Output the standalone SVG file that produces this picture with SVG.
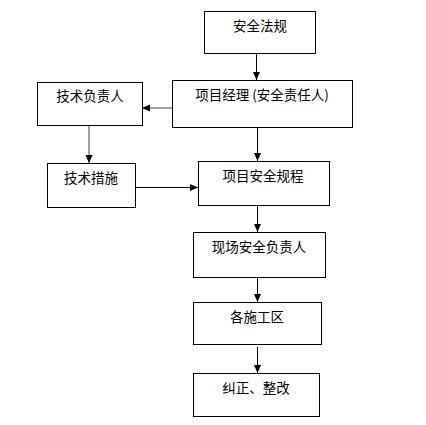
<svg xmlns="http://www.w3.org/2000/svg" width="426" height="425" viewBox="0 0 426 425">
<style>
.box{fill:#fff;stroke:#000;stroke-width:1}
.t{font-family:"Noto Sans CJK SC","Liberation Sans",sans-serif;font-size:13.5px;fill:#000;text-anchor:middle}
.c{fill:none;stroke:#000;stroke-width:1}
.g{fill:none;stroke:#808080;stroke-width:1.5}
</style>
<defs>
<marker id="a" viewBox="0 0 8 8" refX="8" refY="4" markerWidth="8" markerHeight="8" markerUnits="userSpaceOnUse" orient="auto"><path d="M0,0.5 L8,4 L0,7.5 Z" fill="#000"/></marker>
</defs>
<rect width="426" height="425" fill="#fff"/>
<g id="connectors">
<line class="c" x1="256.5" y1="54" x2="256.5" y2="80" marker-end="url(#a)"/>
<line class="g" x1="172" y1="108" x2="142" y2="108" marker-end="url(#a)"/>
<line class="g" x1="89" y1="126" x2="89" y2="163" marker-end="url(#a)"/>
<line class="c" x1="136" y1="187.5" x2="198" y2="187.5" marker-end="url(#a)"/>
<line class="c" x1="257.5" y1="128" x2="257.5" y2="161" marker-end="url(#a)"/>
<line class="c" x1="257.5" y1="206" x2="257.5" y2="232" marker-end="url(#a)"/>
<line class="c" x1="257.5" y1="272" x2="257.5" y2="302" marker-end="url(#a)"/>
<line class="c" x1="257.5" y1="347" x2="257.5" y2="373" marker-end="url(#a)"/>
</g>
<g id="n1"><rect class="box" x="204.5" y="11.5" width="111" height="42"/><text class="t" x="260" y="31">安全法规</text></g>
<g id="n2"><rect class="box" x="172.5" y="80.5" width="180" height="47"/><text class="t" x="262" y="100">项目经理 (安全责任人)</text></g>
<g id="n3"><rect class="box" x="37.5" y="82.5" width="105" height="43"/><text class="t" x="90" y="101">技术负责人</text></g>
<g id="n4"><rect class="box" x="47.5" y="163.5" width="88" height="44"/><text class="t" x="91" y="183">技术措施</text></g>
<g id="n5"><rect class="box" x="198.5" y="161.5" width="131" height="44"/><text class="t" x="263" y="181">项目安全规程</text></g>
<g id="n6"><rect class="box" x="193.5" y="232.5" width="132" height="45"/><text class="t" x="259" y="252">现场安全负责人</text></g>
<g id="n7"><rect class="box" x="193.5" y="302.5" width="128" height="42"/><text class="t" x="257" y="322">各施工区</text></g>
<g id="n8"><rect class="box" x="193.5" y="373.5" width="126" height="43"/><text class="t" x="256" y="393">纠正、整改</text></g>
</svg>
